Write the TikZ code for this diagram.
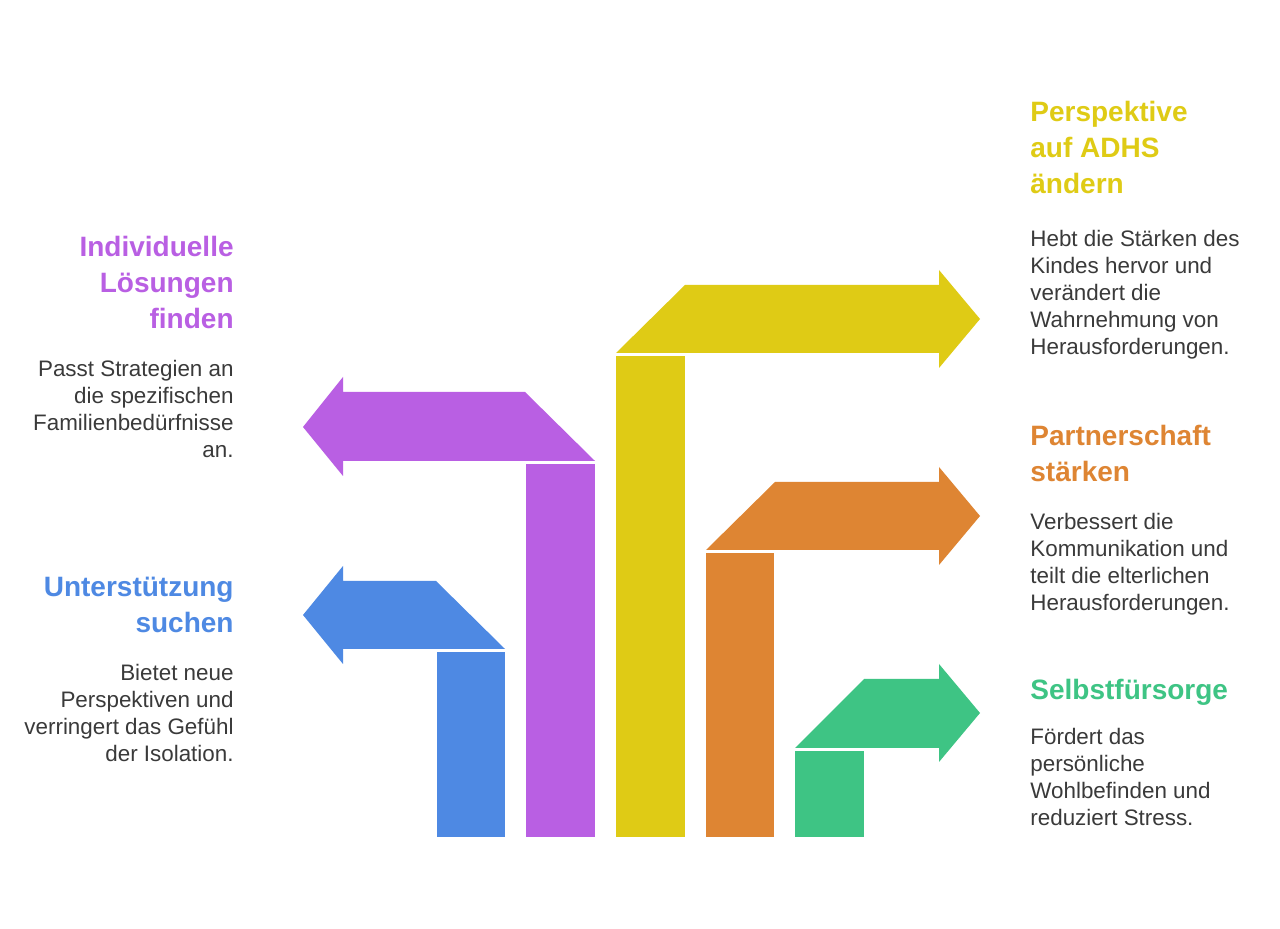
\documentclass[tikz,border=0pt]{standalone}
\usepackage{fontspec}
\setmainfont{Liberation Sans}
\definecolor{sblue}{HTML}{4E89E3}
\definecolor{spurple}{HTML}{B95FE3}
\definecolor{syellow}{HTML}{DFCB15}
\definecolor{sorange}{HTML}{DE8533}
\definecolor{sgreen}{HTML}{3EC484}
\definecolor{sgray}{HTML}{3A3A3A}
\begin{document}
\begin{tikzpicture}[
		x=0.5pt, y=-0.5pt,
		title/.style = {
			font = \fontsize{14}{18}\selectfont\bfseries,
			inner sep = 0pt,
			execute at begin node = \strut
		},
		body/.style = {
			font = \fontsize{11.2}{13.5}\selectfont,
			text = sgray,
			inner sep = 0pt,
			execute at begin node = \strut
		},
		lefttext/.style = {anchor=north east, align=right},
		righttext/.style = {anchor=north west, align=left}
	]
	\useasboundingbox[fill=white] (0,0) rectangle (1280,929);
	% bars
	\fill[sblue]   (437,652) rectangle (505,837);
	\fill[spurple] (526,464) rectangle (595,837);
	\fill[syellow] (616,356) rectangle (685,837);
	\fill[sorange] (706,553) rectangle (774,837);
	\fill[sgreen]  (795,751) rectangle (864,837);
	% arrow heads
	\fill[sblue]   (505,649) -- (436,581) -- (343,581) -- (343,566) -- (303,615)
		-- (343,664) -- (343,649) -- cycle;
	\fill[spurple] (595,461) -- (525,392) -- (343,392) -- (343,377) -- (303,427)
		-- (343,476) -- (343,461) -- cycle;
	\fill[syellow] (616,353) -- (685,285) -- (939,285) -- (939,270) -- (980,319)
		-- (939,368) -- (939,353) -- cycle;
	\fill[sorange] (706,550) -- (775,482) -- (939,482) -- (939,467) -- (980,516)
		-- (939,565) -- (939,550) -- cycle;
	\fill[sgreen]  (795,748) -- (864,679) -- (939,679) -- (939,664) -- (980,713)
		-- (939,762) -- (939,748) -- cycle;
	% texts
	\node[title, lefttext, text=spurple] (purpleT) at (234,236) {Individuelle\\Lösungen\\finden};
	\node[body, lefttext] (purpleB) at (234,360) {Passt Strategien an\\die spezifischen\\Familienbedürfnisse\\an.};
	\node[title, lefttext, text=sblue] (blueT) at (234,577) {Unterstützung\\suchen};
	\node[body, lefttext] (blueB) at (234,664) {Bietet neue\\Perspektiven und\\verringert das Gefühl\\der Isolation.};
	\node[title, righttext, text=syellow] (yellowT) at (1030,101) {Perspektive\\auf ADHS\\ändern};
	\node[body, righttext] (yellowB) at (1030,230) {Hebt die Stärken des\\Kindes hervor und\\verändert die\\Wahrnehmung von\\Herausforderungen.};
	\node[title, righttext, text=sorange] (orangeT) at (1030,425) {Partnerschaft\\stärken};
	\node[body, righttext] (orangeB) at (1030,513) {Verbessert die\\Kommunikation und\\teilt die elterlichen\\Herausforderungen.};
	\node[title, righttext, text=sgreen] (greenT) at (1030,674) {Selbstfürsorge};
	\node[body, righttext] (greenB) at (1030,728) {Fördert das\\persönliche\\Wohlbefinden und\\reduziert Stress.};
\end{tikzpicture}
\end{document}
